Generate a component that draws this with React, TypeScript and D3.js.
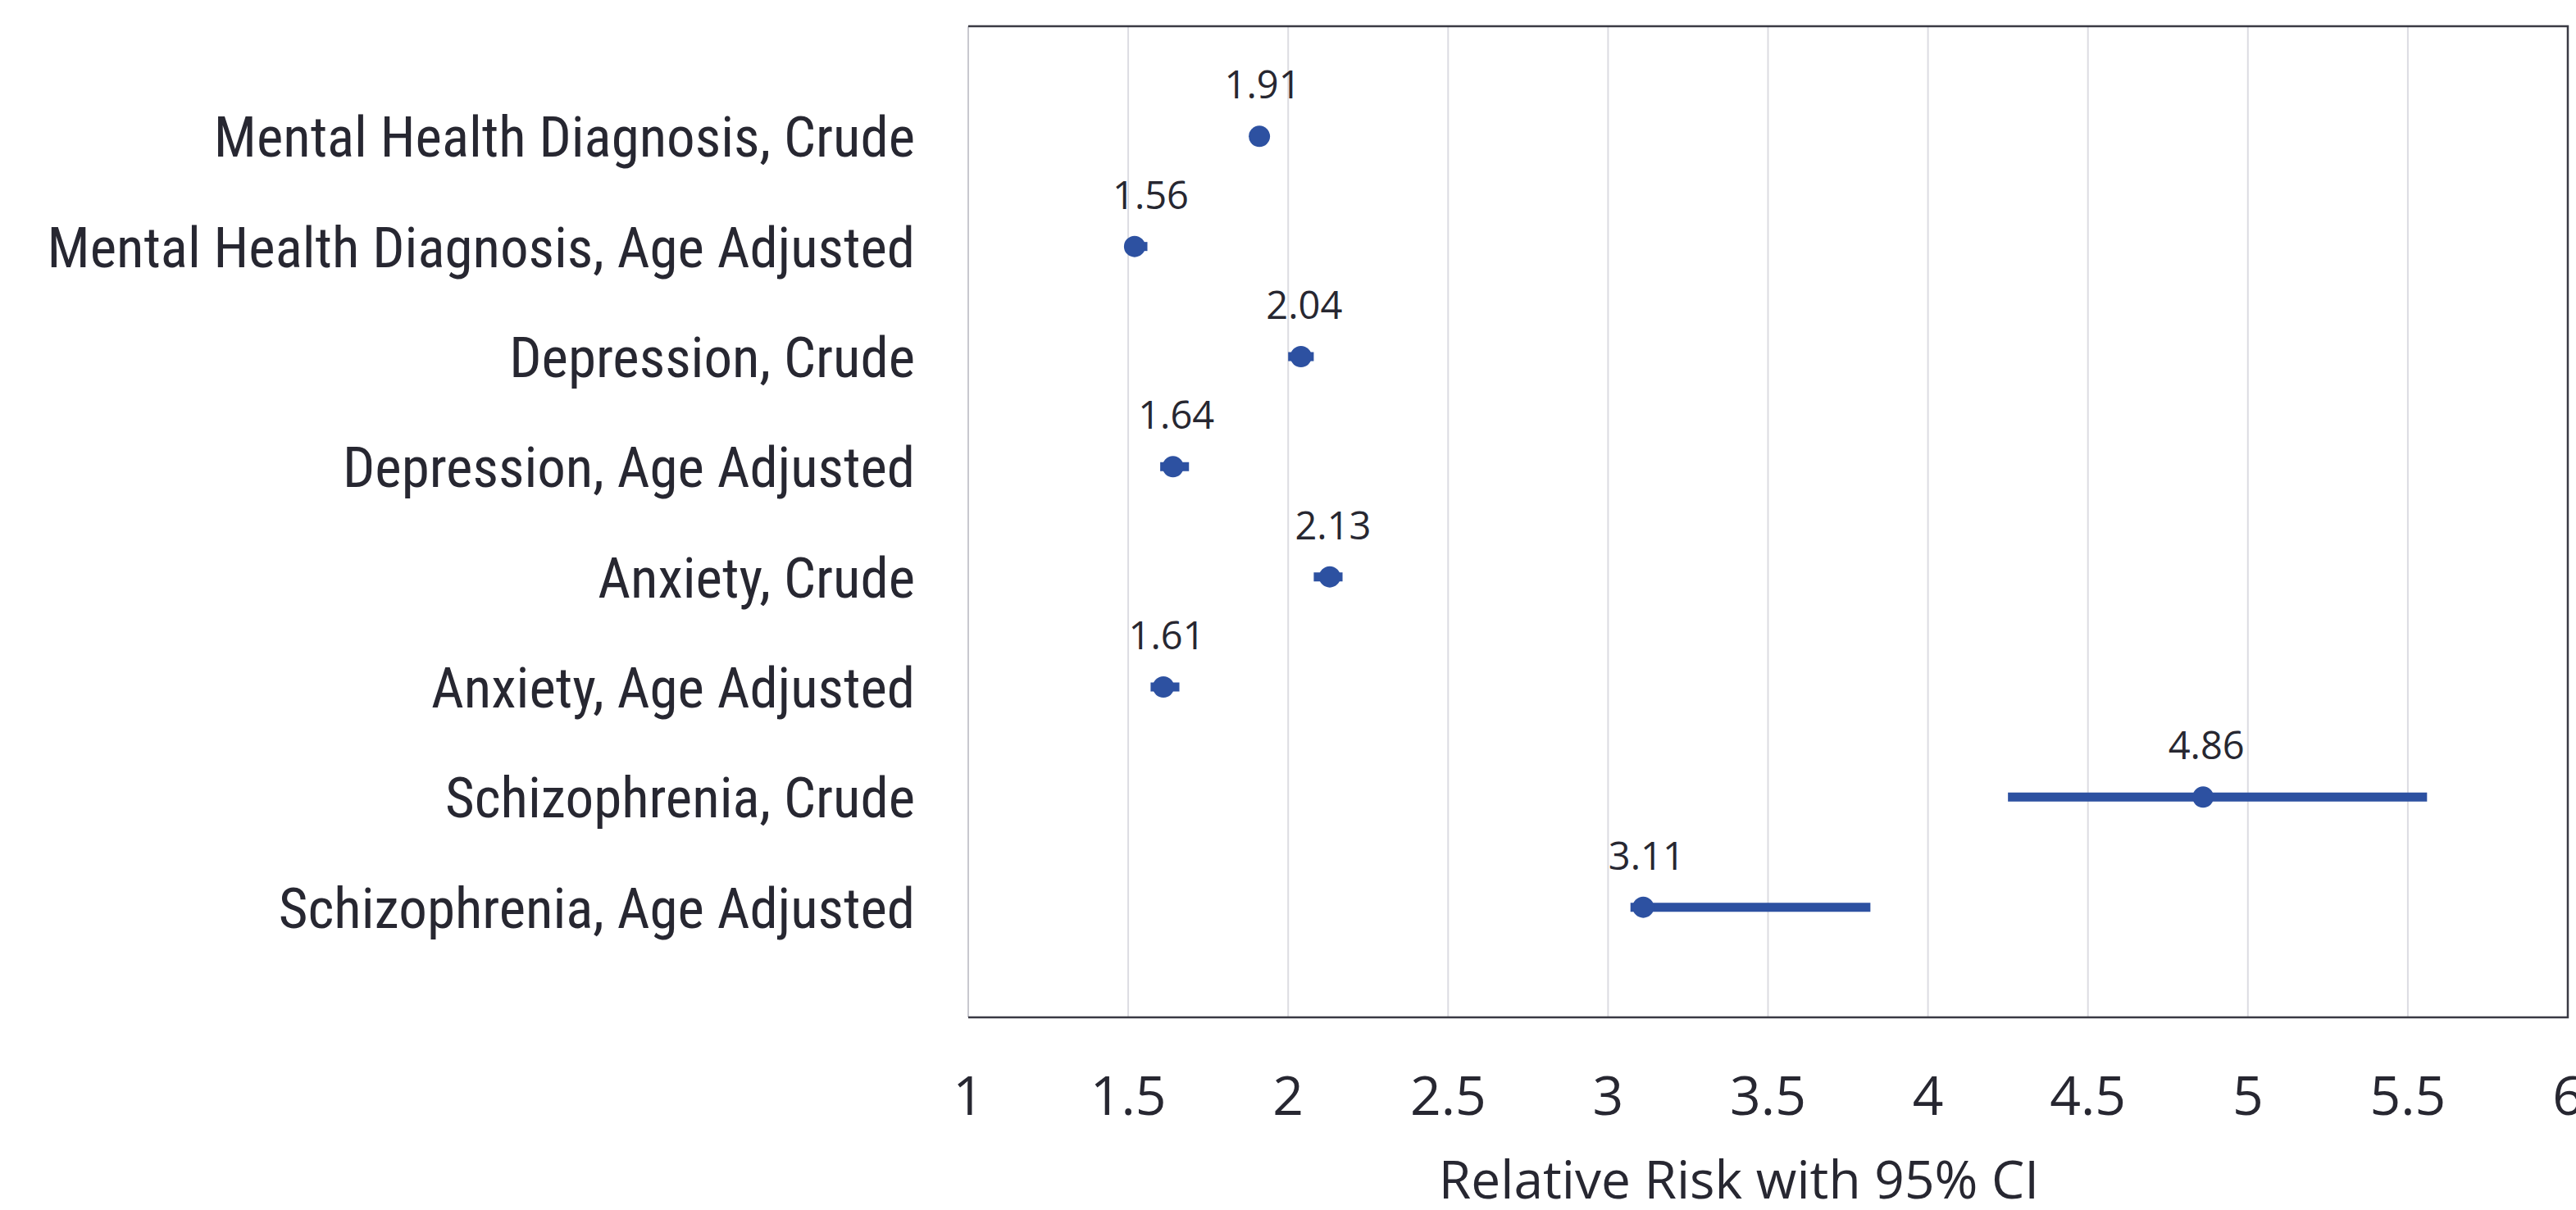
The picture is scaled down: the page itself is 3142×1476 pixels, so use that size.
import React, { useEffect, useRef } from "react";
import * as d3 from "d3";

// rows, top to bottom
const categories = [
  "Mental Health Diagnosis, Crude",
  "Mental Health Diagnosis, Age Adjusted",
  "Depression, Crude",
  "Depression, Age Adjusted",
  "Anxiety, Crude",
  "Anxiety, Age Adjusted",
  "Schizophrenia, Crude",
  "Schizophrenia, Age Adjusted",
];

// marker position as drawn
const estimates = [1.91, 1.52, 2.04, 1.64, 2.13, 1.61, 4.86, 3.11];
// data label values
const labelValues = [1.91, 1.56, 2.04, 1.64, 2.13, 1.61, 4.86, 3.11];
const ciLower = [1.89, 1.5, 2.0, 1.6, 2.08, 1.57, 4.25, 3.07];
const ciUpper = [1.93, 1.56, 2.08, 1.69, 2.17, 1.66, 5.56, 3.82];

const xTicks = [1, 1.5, 2, 2.5, 3, 3.5, 4, 4.5, 5, 5.5, 6];
const xTitle = "Relative Risk with 95% CI";

const W = 3142;
const H = 1476;

const App = () => {
  const ref = useRef<SVGSVGElement>(null);

  useEffect(() => {
    const svg = d3.select(ref.current);
    svg.selectAll("*").remove();

    const left = 1181;
    const right = 3132;
    const top = 32;
    const bottom = 1241;

    const x = d3.scaleLinear().domain([1, 6]).range([left, right]);
    const y = d3.scaleLinear().domain([0, categories.length + 1]).range([top, bottom]);

    const blue = "#2d51a1";
    const ink = "#272731";
    const numFont = "'Open Sans', 'Noto Sans', sans-serif";

    svg.append("rect").attr("width", W).attr("height", H).attr("fill", "#fff");

    // gridlines
    svg
      .append("g")
      .selectAll("line")
      .data(xTicks.slice(1, -1))
      .join("line")
      .attr("x1", (d) => x(d))
      .attr("x2", (d) => x(d))
      .attr("y1", top)
      .attr("y2", bottom)
      .attr("stroke", "#dcdce2")
      .attr("stroke-width", 2);

    // frame: light left edge, dark elsewhere
    svg
      .append("line")
      .attr("x1", left)
      .attr("x2", left)
      .attr("y1", top)
      .attr("y2", bottom)
      .attr("stroke", "#c8c8cf")
      .attr("stroke-width", 2);
    svg
      .append("path")
      .attr("d", `M${left},${top}H${right}V${bottom}H${left}`)
      .attr("fill", "none")
      .attr("stroke", "#3a3a44")
      .attr("stroke-width", 2.5);

    // tick labels
    svg
      .append("g")
      .selectAll("text")
      .data(xTicks)
      .join("text")
      .attr("x", (d) => x(d))
      .attr("y", 1360)
      .attr("text-anchor", "middle")
      .style("font-family", numFont)
      .style("font-size", "66px")
      .attr("fill", ink)
      .text((d) => String(d));

    svg
      .append("text")
      .attr("x", 2121)
      .attr("y", 1462)
      .attr("text-anchor", "middle")
      .style("font-family", numFont)
      .style("font-size", "64px")
      .attr("fill", ink)
      .text(xTitle);

    // category labels
    svg
      .append("g")
      .selectAll("text")
      .data(categories)
      .join("text")
      .attr("x", 1116)
      .attr("y", (d, i) => y(i + 1) + 25)
      .attr("text-anchor", "end")
      .style("font-family", "'Liberation Sans Narrow', 'Roboto Condensed', 'DejaVu Sans Condensed', sans-serif")
      .style("font-size", "69px")
      .attr("fill", ink)
      .text((d) => d);

    // error bars
    svg
      .append("g")
      .selectAll("line")
      .data(categories)
      .join("line")
      .attr("x1", (d, i) => x(ciLower[i]))
      .attr("x2", (d, i) => x(ciUpper[i]))
      .attr("y1", (d, i) => y(i + 1))
      .attr("y2", (d, i) => y(i + 1))
      .attr("stroke", blue)
      .attr("stroke-width", 11);

    // markers
    svg
      .append("g")
      .selectAll("circle")
      .data(categories)
      .join("circle")
      .attr("cx", (d, i) => x(estimates[i]))
      .attr("cy", (d, i) => y(i + 1))
      .attr("r", 13)
      .attr("fill", blue);

    // data labels
    svg
      .append("g")
      .selectAll("text")
      .data(labelValues)
      .join("text")
      .attr("x", (d) => x(d) + 4)
      .attr("y", (d, i) => y(i + 1) - 46)
      .attr("text-anchor", "middle")
      .style("font-family", numFont)
      .style("font-size", "47px")
      .attr("fill", ink)
      .text((d) => d.toFixed(2));
  }, []);

  return (
    <svg
      ref={ref}
      width={W}
      height={H}
      style={{ position: "absolute", left: 0, top: 0, display: "block" }}
    />
  );
};

export default App;
